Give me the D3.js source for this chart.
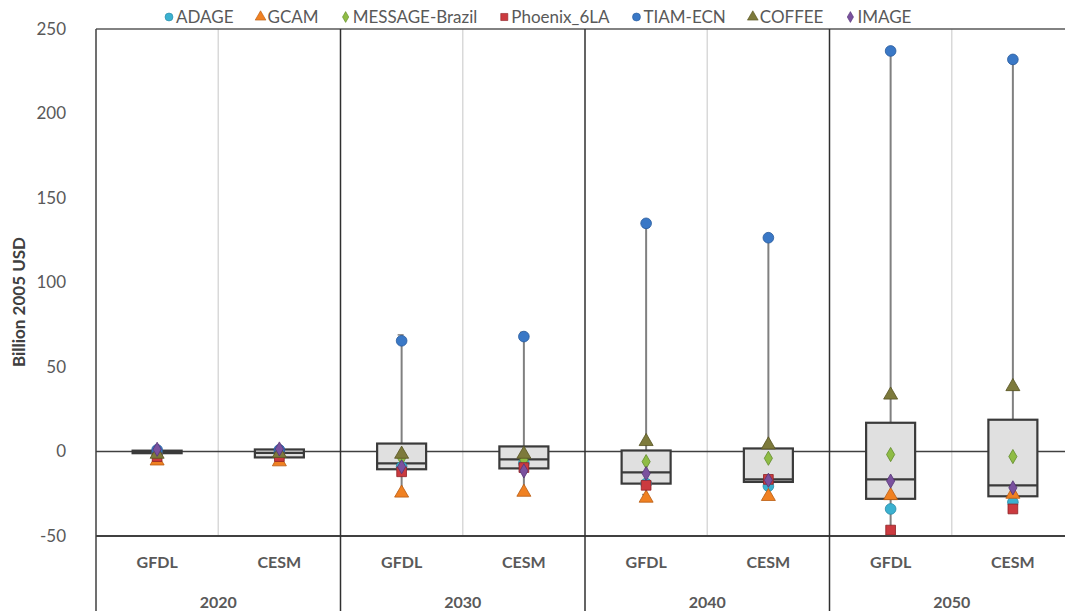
<!DOCTYPE html>
<html>
<head>
<meta charset="utf-8">
<script src="https://cdn.jsdelivr.net/npm/d3@7"></script>
<style>
  html, body { margin: 0; padding: 0; background: #fff; }
  svg { display: block; }
  text { font-family: Lato, "Open Sans", sans-serif; }
</style>
</head>
<body>
<svg id="chart" width="1065" height="611"></svg>
<script>
// ---------- data ----------
const years = ["2020", "2030", "2040", "2050"];
const gcms = ["GFDL", "CESM"];
const models = ["ADAGE", "GCAM", "MESSAGE-Brazil", "Phoenix_6LA", "TIAM-ECN", "COFFEE", "IMAGE"];
const yTicks = [-50, 0, 50, 100, 150, 200, 250];

// group order: 2020-GFDL, 2020-CESM, 2030-GFDL, 2030-CESM, 2040-GFDL, 2040-CESM, 2050-GFDL, 2050-CESM
const adage   = [-1,   -1,   -9,   -7,   -19,  -20.5, -34,   -30];
const gcam    = [-5,   -5.5, -24,  -23.5, -27, -26,   -25.5, -24.7];
const message = [-1.5, -1.5, -4,   -5,   -6,   -4,    -1.8,  -3];
const phoenix = [-3,   -3,   -12,  -9.5, -20,  -16.5, -46.5, -34];
const tiam    = [1,    1,    65.5, 68,   135,  126.5, 237,   232];
const coffee  = [-1,   -0.5, -1,   -1,   6.5,  4.5,   34,    39];
const image   = [1.3,  1.5,  -9,   -11.5, -13, -17,   -17.5, -21.5];

// box statistics per group
const boxQ1   = [-1,   -3.5, -10.5, -10,  -19,  -18,   -28,   -26.5];
const boxMed  = [-0.3, -0.8, -7,    -4.7, -12.4, -16.5, -16.5, -20];
const boxQ3   = [0.5,  1.2,  4.7,   3,    0.6,  1.8,   17,    18.8];
const whiskLo = [-5,   -5.5, -24,   -23.5, -25.5, -26,  -46.5, -34];
const whiskHi = [1.5,  1.5,  69,    70.5, 135,  127,   237,   232];

const seriesValues = [adage, gcam, message, phoenix, tiam, coffee, image];
const modelColors = ["#3bb1d0", "#f08122", "#8fbc45", "#cb3a3f", "#3a78c6", "#7d7a3c", "#7a519e"];
const modelStroke = ["#2a8aa6", "#b85a10", "#5f8a2a", "#8e2226", "#285b9c", "#55521f", "#553575"];
const modelShapes = ["circle", "triangle", "diamond", "square", "circle", "triangle", "diamond"];

// ---------- layout ----------
const svg = d3.select("#chart");
const L = 96, R = 1074, T = 29, B = 536, FB = 611;

const y = d3.scaleLinear().domain([-50, 250]).range([B, T]);
const xYear = d3.scaleBand().domain(years).range([L, R]).paddingInner(0).paddingOuter(0);
const xGcm = d3.scaleBand().domain(gcms).range([0, xYear.bandwidth()]).paddingInner(0).paddingOuter(0);

const groups = [];
years.forEach(yr => gcms.forEach(g => groups.push({ year: yr, gcm: g })));
groups.forEach((gr, i) => {
  gr.cx = xYear(gr.year) + xGcm(gr.gcm) + xGcm.bandwidth() / 2;
  gr.i = i;
});

const symType = { circle: d3.symbolCircle, triangle: d3.symbolTriangle, diamond: d3.symbolDiamond, square: d3.symbolSquare };
const symSize = { circle: 90, triangle: 85, diamond: 58, square: 95 };

// ---------- grid / separators ----------
years.forEach(yr => {
  const x = xYear(yr) + xGcm("CESM");
  svg.append("line").attr("x1", x).attr("x2", x).attr("y1", T).attr("y2", B)
    .attr("stroke", "#d9d9d9").attr("stroke-width", 1.5);
});

const yAxis = d3.axisLeft(y).tickValues(yTicks).tickSize(0).tickPadding(30).tickFormat(d => String(d));
const gy = svg.append("g").attr("transform", `translate(${L},0)`).call(yAxis);
gy.select(".domain").remove();
gy.selectAll("text").attr("fill", "#595959").style("font-size", "17px").style("font-family", "Lato, sans-serif");

svg.append("line").attr("x1", L).attr("x2", R).attr("y1", y(0)).attr("y2", y(0))
  .attr("stroke", "#404040").attr("stroke-width", 1.5);

svg.append("line").attr("x1", L).attr("x2", R).attr("y1", T).attr("y2", T)
  .attr("stroke", "#595959").attr("stroke-width", 1.5);

// ---------- boxes ----------
const boxW = 49;
const gBox = svg.append("g");
groups.forEach(gr => {
  const i = gr.i;
  gBox.append("line").attr("x1", gr.cx).attr("x2", gr.cx)
    .attr("y1", y(whiskLo[i])).attr("y2", y(whiskHi[i]))
    .attr("stroke", "#808080").attr("stroke-width", 2);
  [whiskLo[i], whiskHi[i]].forEach(v => {
    gBox.append("line").attr("x1", gr.cx - 4).attr("x2", gr.cx + 2)
      .attr("y1", y(v)).attr("y2", y(v)).attr("stroke", "#808080").attr("stroke-width", 1.5);
  });
  gBox.append("rect").attr("x", gr.cx - boxW / 2).attr("width", boxW)
    .attr("y", y(boxQ3[i])).attr("height", Math.max(1, y(boxQ1[i]) - y(boxQ3[i])))
    .attr("fill", "#e0e0e0").attr("stroke", "#3a3a3a").attr("stroke-width", 2.2);
  gBox.append("line").attr("x1", gr.cx - boxW / 2).attr("x2", gr.cx + boxW / 2)
    .attr("y1", y(boxMed[i])).attr("y2", y(boxMed[i]))
    .attr("stroke", "#3a3a3a").attr("stroke-width", 2.2);
});

// ---------- markers ----------
const gMk = svg.append("g");
models.forEach((m, k) => {
  const shp = modelShapes[k];
  const gen = d3.symbol().type(symType[shp]).size(symSize[shp]);
  gMk.selectAll(null).data(seriesValues[k]).enter().append("path")
    .attr("d", gen())
    .attr("transform", (v, i) => `translate(${groups[i].cx},${y(v) + (shp === "triangle" ? 1 : 0)})`)
    .attr("fill", modelColors[k]).attr("stroke", modelStroke[k]).attr("stroke-width", 0.8);
});

// ---------- bottom category axis ----------
svg.append("line").attr("x1", L).attr("x2", R).attr("y1", B).attr("y2", B)
  .attr("stroke", "#404040").attr("stroke-width", 2);
svg.append("line").attr("x1", L).attr("x2", L).attr("y1", T).attr("y2", FB)
  .attr("stroke", "#404040").attr("stroke-width", 1.5);
years.slice(1).forEach(yr => {
  const x = xYear(yr);
  svg.append("line").attr("x1", x).attr("x2", x).attr("y1", T).attr("y2", FB)
    .attr("stroke", "#303030").attr("stroke-width", 1.5);
});

groups.forEach(gr => {
  svg.append("text").attr("x", gr.cx).attr("y", 568).attr("text-anchor", "middle")
    .attr("fill", "#595959").style("font-size", "16px").style("font-weight", "bold").text(gr.gcm);
});
years.forEach(yr => {
  svg.append("text").attr("x", xYear(yr) + xYear.bandwidth() / 2).attr("y", 608).attr("text-anchor", "middle")
    .attr("fill", "#595959").style("font-size", "16px").style("font-weight", "bold").text(yr);
});

svg.append("text").attr("transform", "translate(25,302) rotate(-90)").attr("text-anchor", "middle")
  .attr("fill", "#404040").style("font-size", "17px").style("font-weight", "bold").text("Billion 2005 USD");

// ---------- legend ----------
const legend = svg.append("g");
let lx = 169;
models.forEach((m, k) => {
  const shp = modelShapes[k];
  const sym = d3.symbol().type(symType[shp]).size(shp === "diamond" ? 34 : 50);
  legend.append("path").attr("d", sym()).attr("transform", `translate(${lx},${17})`)
    .attr("fill", modelColors[k]).attr("stroke", modelStroke[k]).attr("stroke-width", 0.6);
  const t = legend.append("text").attr("x", lx + 7).attr("y", 23).attr("fill", "#595959")
    .style("font-size", "17px").text(m);
  lx += 7 + t.node().getComputedTextLength() + 27;
});
</script>
</body>
</html>
